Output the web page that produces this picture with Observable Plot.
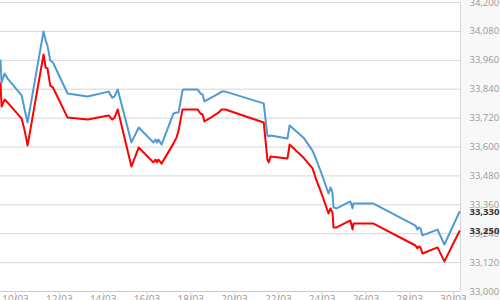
<!DOCTYPE html>
<html><head><meta charset="utf-8">
<script src="https://cdn.jsdelivr.net/npm/d3@7"></script>
<script src="https://cdn.jsdelivr.net/npm/@observablehq/plot@0.6"></script>
<style>html,body{margin:0;padding:0;background:#fff;overflow:hidden}#chart svg{display:block}</style>
</head><body><div id="chart"></div>
<script>
const times = ["03-09T07:30","03-09T08:40","03-09T12:00","03-09T15:10","03-10T06:40","03-10T10:00","03-10T13:10",
"03-11T06:40","03-11T09:00","03-11T11:00","03-11T14:00","03-11T17:00","03-12T09:00","03-13T07:00",
"03-14T06:00","03-14T10:00","03-14T12:30","03-14T16:00","03-15T07:00","03-15T15:00","03-16T07:00",
"03-16T09:30","03-16T11:00","03-16T12:40","03-16T16:00","03-17T05:00","03-17T08:30","03-17T10:40",
"03-17T15:00","03-17T16:00","03-18T07:30","03-18T10:40","03-18T13:00","03-18T15:00","03-19T06:30",
"03-19T09:50","03-19T14:00","03-21T08:00","03-21T12:00","03-21T13:30","03-21T15:30","03-22T10:00",
"03-22T12:20","03-23T04:00","03-23T13:30","03-23T17:50","03-23T23:20","03-24T07:00","03-24T09:10",
"03-24T11:20","03-24T12:30","03-24T15:50","03-25T07:00","03-25T09:20","03-25T10:20","03-26T08:20",
"03-28T06:20","03-28T08:30","03-28T09:40","03-28T11:50","03-28T14:00","03-29T06:30","03-29T14:00","03-30T06:30"];
const blueSeries = [33959,33868,33905,33885,33814,33755,33702,
34080,34042,34021,33959,33951,33822,33810,
33830,33805,33810,33839,33619,33681,33619,
33631,33619,33631,33610,33739,33743,33743,
33835,33839,33839,33822,33818,33789,33822,
33830,33830,33781,33648,33644,33648,33635,
33689,33637,33585,33545,33490,33407,33432,
33411,33349,33345,33374,33345,33365,33365,
33274,33257,33266,33262,33233,33257,33195,33330];
const redSeries = [33864,33768,33797,33785,33718,33668,33606,
33984,33930,33926,33855,33847,33722,33714,
33731,33714,33722,33756,33519,33598,33536,
33548,33536,33548,33531,33614,33640,33668,
33756,33756,33756,33739,33735,33706,33743,
33756,33756,33702,33548,33536,33561,33552,
33610,33554,33511,33461,33407,33324,33345,
33328,33266,33266,33295,33257,33282,33282,
33191,33179,33187,33183,33158,33183,33125,33250];
const xTickDates = ["03-10","03-12","03-14","03-16","03-18","03-20","03-22","03-24","03-26","03-28","03-30"];
const yTickValues = [33000,33120,33240,33360,33480,33600,33720,33840,33960,34080,34200];
const xDomainStr = ["03-09T07:30","03-30T07:40"];
const yDomain = [33000, 34200];

const toDate = s => new Date("2024-" + (s.length === 5 ? s + "T00:00" : s) + ":00Z");
const rows = times.map((t, i) => ({date: toDate(t), blue: blueSeries[i], red: redSeries[i]}));
const xTicks = xTickDates.map(toDate);
const xDomain = xDomainStr.map(toDate);
const fmt = d3.format(",");
const last = rows[rows.length - 1];

const chart = Plot.plot({
  width: 500, height: 300,
  marginLeft: 0, marginRight: 40, marginTop: 2, marginBottom: 9,
  style: {background: "linear-gradient(to right, #fff 460px, #f8f8f8 460px)", fontFamily: "'Open Sans', sans-serif", fontSize: "9.5px"},
  x: {type: "utc", domain: xDomain, label: null},
  y: {domain: yDomain, label: null},
  marks: [
    Plot.gridY(yTickValues, {stroke: "#d6d6d6", strokeOpacity: 1}),
    Plot.ruleY([yDomain[0]], {stroke: "#c8c8c8"}),
    Plot.ruleX([xDomain[1]], {stroke: "#d6d6d6"}),
    Plot.axisX(xTicks, {tickSize: 9, tickFormat: () => "", stroke: "#d6d6d6", label: null}),
    Plot.axisX(xTicks, {tickSize: 0, tickPadding: 4, tickFormat: d3.utcFormat("%d/%m"), fill: "#999", fontSize: 10, label: null}),
    Plot.axisY(yTickValues, {anchor: "right", tickSize: 0, tickPadding: 9, tickFormat: fmt, fill: "#999", fontSize: 9.5, label: null}),
    Plot.lineY(rows, {x: "date", y: "blue", stroke: "#4f9bd1", strokeWidth: 2}),
    Plot.lineY(rows, {x: "date", y: "red", stroke: "#ff0000", strokeWidth: 2}),
    Plot.text([last], {y: "blue", text: d => fmt(d.blue), frameAnchor: "right", dx: 9, textAnchor: "start", fontWeight: "bold", fill: "#333", fontSize: 9.5}),
    Plot.text([last], {y: "red", text: d => fmt(d.red), frameAnchor: "right", dx: 9, textAnchor: "start", fontWeight: "bold", fill: "#333", fontSize: 9.5})
  ]
});
document.getElementById("chart").append(chart);
</script>
</body></html>
